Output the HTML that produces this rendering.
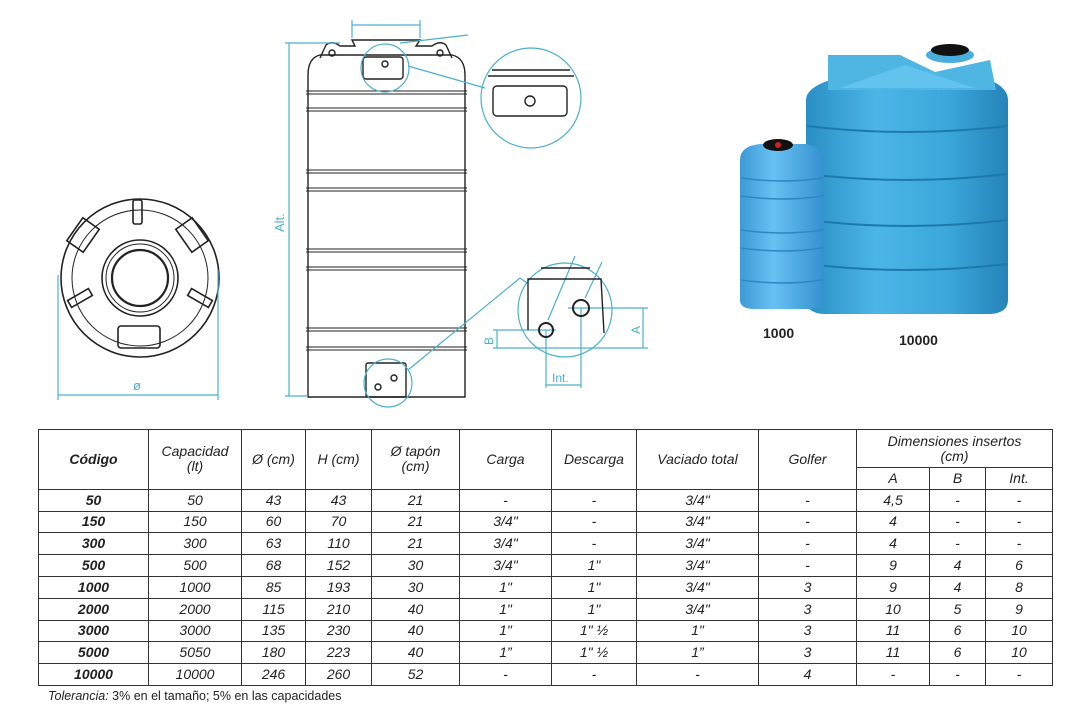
<!DOCTYPE html>
<html><head><meta charset="utf-8"><style>
body{margin:0;background:#fff;width:1091px;height:718px;position:relative;overflow:hidden;font-family:"Liberation Sans",Arial,sans-serif;}
svg{position:absolute;left:0;top:0}
table{position:absolute;left:38px;top:429px;border-collapse:collapse;font-style:italic;font-size:14px;color:#222}
td{border:1.5px solid #333;text-align:center;padding:0;height:20.8px;line-height:15px}
td.b{font-weight:bold}
.note{position:absolute;left:48px;top:689px;font-size:12.5px;color:#222}
</style></head><body>
<svg width="1091" height="420" viewBox="0 0 1091 420">
<defs>
<linearGradient id="bl" x1="0" x2="1"><stop offset="0" stop-color="#2a8fc4"/><stop offset=".35" stop-color="#4bb6e6"/><stop offset=".7" stop-color="#3ba7da"/><stop offset="1" stop-color="#2683b8"/></linearGradient>
<linearGradient id="bs" x1="0" x2="1"><stop offset="0" stop-color="#3d9ad6"/><stop offset=".4" stop-color="#67c1f2"/><stop offset="1" stop-color="#3590d0"/></linearGradient>
</defs>
<g fill="none" stroke="#222" stroke-width="1.6">
<circle cx="140" cy="278" r="79"/>
<circle cx="140" cy="278" r="68" stroke-width="1"/>
<circle cx="140" cy="278" r="38"/>
<circle cx="140" cy="278" r="34" stroke-width="1"/>
<circle cx="140" cy="278" r="28" stroke-width="2.2"/>
<rect x="133" y="200" width="9" height="24" rx="2"/>
<rect x="118" y="326" width="42" height="22" rx="3"/>
<rect x="73" y="221" width="20" height="28" transform="rotate(35 83 235)"/>
<rect x="182" y="221" width="20" height="28" transform="rotate(-35 192 235)"/>
<rect x="68" y="294" width="24" height="8" transform="rotate(-30 80 298)"/>
<rect x="188" y="294" width="24" height="8" transform="rotate(30 200 298)"/>
</g>
<g stroke="#4bb0cc" stroke-width="1.2" fill="none">
<line x1="58" y1="275" x2="58" y2="400"/><line x1="218" y1="270" x2="218" y2="400"/>
<line x1="58" y1="395" x2="218" y2="395"/>
</g>
<text x="133" y="390" font-size="13" fill="#4bb0cc">ø</text>
<g fill="none" stroke="#222" stroke-width="1.4">
<path d="M308 397 L308 75 Q308 58 320 55 L452 55 Q465 58 465 75 L465 397 Z"/>
<path d="M320 58 L326 45 Q332 40 340 46 L355 46 L352 40 L420 40 L416 46 L432 46 Q440 40 446 45 L452 58"/>
<circle cx="332" cy="53" r="3"/><circle cx="440" cy="53" r="3"/>
<rect x="363" y="57" width="40" height="22" rx="3"/><circle cx="385" cy="64" r="3"/>
<rect x="366" y="363" width="40" height="34" rx="2"/>
<circle cx="378" cy="387" r="3"/><circle cx="394" cy="378" r="3"/>
</g>
<g stroke="#222" stroke-width="1">
<line x1="306" y1="91" x2="467" y2="91"/><line x1="306" y1="94" x2="467" y2="94"/><line x1="306" y1="108" x2="467" y2="108"/><line x1="306" y1="111" x2="467" y2="111"/>
<line x1="306" y1="170" x2="467" y2="170"/><line x1="306" y1="173" x2="467" y2="173"/><line x1="306" y1="188" x2="467" y2="188"/><line x1="306" y1="191" x2="467" y2="191"/>
<line x1="306" y1="249" x2="467" y2="249"/><line x1="306" y1="252" x2="467" y2="252"/><line x1="306" y1="267" x2="467" y2="267"/><line x1="306" y1="270" x2="467" y2="270"/>
<line x1="306" y1="328" x2="467" y2="328"/><line x1="306" y1="331" x2="467" y2="331"/><line x1="306" y1="347" x2="467" y2="347"/><line x1="306" y1="350" x2="467" y2="350"/>
</g>
<g stroke="#4bb0cc" stroke-width="1.2" fill="none">
<line x1="289" y1="43" x2="289" y2="396"/><line x1="285" y1="43" x2="340" y2="43"/><line x1="285" y1="396" x2="308" y2="396"/>
<line x1="352" y1="20" x2="352" y2="38"/><line x1="420" y1="20" x2="420" y2="38"/><line x1="352" y1="25" x2="420" y2="25"/>
<line x1="400" y1="43" x2="468" y2="35"/>
<circle cx="385" cy="68" r="24"/>
<line x1="408" y1="66" x2="485" y2="88"/>
<circle cx="531" cy="98" r="50"/>
<circle cx="388" cy="383" r="24"/>
<line x1="408" y1="370" x2="520" y2="278"/><line x1="520" y1="278" x2="527" y2="283"/>
<circle cx="565" cy="310" r="47"/>
<line x1="497" y1="330" x2="497" y2="348"/><line x1="493" y1="330" x2="556" y2="330"/><line x1="493" y1="348" x2="648" y2="348"/>
<line x1="643" y1="308" x2="643" y2="348"/><line x1="568" y1="308" x2="648" y2="308"/>
<line x1="546" y1="330" x2="546" y2="388"/><line x1="581" y1="308" x2="581" y2="388"/><line x1="546" y1="385" x2="581" y2="385"/>
<line x1="575" y1="256" x2="548" y2="320"/><line x1="602" y1="262" x2="585" y2="298"/>
</g>
<text transform="translate(284 232) rotate(-90)" font-size="13" fill="#4bb0cc">Alt.</text>
<text transform="translate(493 345) rotate(-90)" font-size="12" fill="#4bb0cc">B</text>
<text transform="translate(640 334) rotate(-90)" font-size="12" fill="#4bb0cc">A</text>
<text x="552" y="382" font-size="12" fill="#4bb0cc">Int.</text>
<g fill="none" stroke="#222" stroke-width="1.4">
<line x1="492" y1="70" x2="570" y2="70"/><line x1="488" y1="76" x2="574" y2="76"/>
<rect x="493" y="86" width="74" height="30" rx="4"/><circle cx="530" cy="101" r="5"/>
</g>
<g fill="none" stroke="#222" stroke-width="1.4">
<line x1="541" y1="268" x2="590" y2="268"/>
<path d="M528 330 L528 279 L601 279 L604 333"/>
<circle cx="546" cy="330" r="7" stroke-width="2"/><circle cx="581" cy="308" r="8" stroke-width="2"/>
</g>
<g>
<path d="M806 100 Q806 88 830 80 L990 80 Q1008 88 1008 100 L1008 300 Q1008 313 990 314 L824 314 Q806 313 806 300 Z" fill="url(#bl)"/>
<path d="M828 55 L900 55 L935 72 L990 60 L996 90 L828 90 Z" fill="#4fb5e3"/>
<path d="M840 88 L905 65 L975 88 Z" fill="#62c3ee"/>
<ellipse cx="950" cy="55" rx="24" ry="8" fill="#4aaedd"/>
<ellipse cx="950" cy="50" rx="19" ry="6" fill="#111"/>
<g stroke="#1e79ab" stroke-width="2" fill="none">
<path d="M807 126 Q907 138 1007 126"/><path d="M807 174 Q907 186 1007 174"/><path d="M807 220 Q907 232 1007 220"/><path d="M807 264 Q907 276 1007 264"/>
</g>
<path d="M740 160 Q740 146 760 144 L806 144 Q824 148 824 162 L824 300 Q824 308 810 309 L752 309 Q740 308 740 300 Z" fill="url(#bs)"/>
<ellipse cx="778" cy="145" rx="15" ry="6" fill="#111"/><circle cx="778" cy="145" r="3" fill="#c22"/>
<g stroke="#2f86c2" stroke-width="1.5" fill="none">
<path d="M741 178 Q782 184 823 178"/><path d="M741 196 Q782 202 823 196"/><path d="M741 230 Q782 236 823 230"/><path d="M741 248 Q782 254 823 248"/><path d="M741 280 Q782 286 823 280"/>
</g>
</g>
<text x="763" y="338" font-size="14" font-weight="bold" fill="#222">1000</text>
<text x="899" y="345" font-size="14" font-weight="bold" fill="#222">10000</text>
</svg>
<table>
<colgroup><col style="width:110px"><col style="width:93px"><col style="width:64px"><col style="width:66px"><col style="width:88px"><col style="width:92px"><col style="width:85px"><col style="width:122px"><col style="width:98px"><col style="width:73px"><col style="width:56px"><col style="width:67px"></colgroup>
<tr><td rowspan="2" class="b" style="height:58px">Código</td><td rowspan="2">Capacidad<br>(lt)</td><td rowspan="2">Ø (cm)</td><td rowspan="2">H (cm)</td><td rowspan="2">Ø tapón<br>(cm)</td><td rowspan="2">Carga</td><td rowspan="2">Descarga</td><td rowspan="2">Vaciado total</td><td rowspan="2">Golfer</td><td colspan="3" style="height:37px">Dimensiones insertos<br>(cm)</td></tr>
<tr><td style="height:19px">A</td><td>B</td><td>Int.</td></tr>
<tr><td class="b">50</td><td>50</td><td>43</td><td>43</td><td>21</td><td>-</td><td>-</td><td>3/4"</td><td>-</td><td>4,5</td><td>-</td><td>-</td></tr>
<tr><td class="b">150</td><td>150</td><td>60</td><td>70</td><td>21</td><td>3/4"</td><td>-</td><td>3/4"</td><td>-</td><td>4</td><td>-</td><td>-</td></tr>
<tr><td class="b">300</td><td>300</td><td>63</td><td>110</td><td>21</td><td>3/4"</td><td>-</td><td>3/4"</td><td>-</td><td>4</td><td>-</td><td>-</td></tr>
<tr><td class="b">500</td><td>500</td><td>68</td><td>152</td><td>30</td><td>3/4"</td><td>1"</td><td>3/4"</td><td>-</td><td>9</td><td>4</td><td>6</td></tr>
<tr><td class="b">1000</td><td>1000</td><td>85</td><td>193</td><td>30</td><td>1"</td><td>1"</td><td>3/4"</td><td>3</td><td>9</td><td>4</td><td>8</td></tr>
<tr><td class="b">2000</td><td>2000</td><td>115</td><td>210</td><td>40</td><td>1"</td><td>1"</td><td>3/4"</td><td>3</td><td>10</td><td>5</td><td>9</td></tr>
<tr><td class="b">3000</td><td>3000</td><td>135</td><td>230</td><td>40</td><td>1"</td><td>1" ½</td><td>1"</td><td>3</td><td>11</td><td>6</td><td>10</td></tr>
<tr><td class="b">5000</td><td>5050</td><td>180</td><td>223</td><td>40</td><td>1”</td><td>1" ½</td><td>1”</td><td>3</td><td>11</td><td>6</td><td>10</td></tr>
<tr><td class="b">10000</td><td>10000</td><td>246</td><td>260</td><td>52</td><td>-</td><td>-</td><td>-</td><td>4</td><td>-</td><td>-</td><td>-</td></tr>
</table>
<div class="note"><i>Tolerancia:</i> 3% en el tamaño; 5% en las capacidades</div>
</body></html>
